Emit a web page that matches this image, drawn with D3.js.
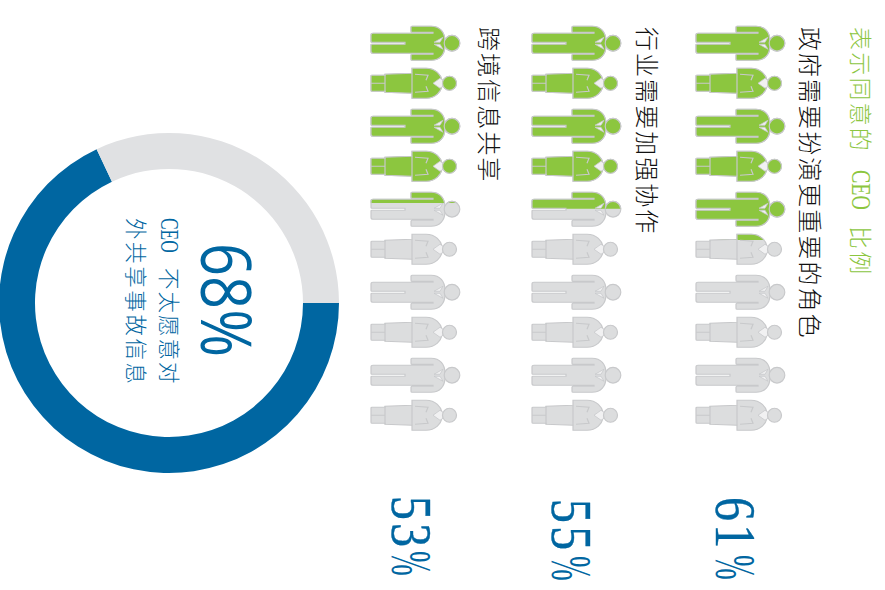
<!DOCTYPE html>
<html><head><meta charset="utf-8">
<script src="https://cdn.jsdelivr.net/npm/d3@7/dist/d3.min.js"></script>
<style>html,body{margin:0;padding:0;background:#fff}svg{display:block}</style>
</head><body><div id="c"></div>
<script>
const rowLabels = ["政府需要扮演更重要的角色","行业需要加强协作","跨境信息共享"];
const rowValues = [61,55,53];
const filledIcons = [5.24,4.49,4.35];
const iconKinds = ["man","woman","man","woman","man","woman","man","woman","man","woman"];
const legendParts = ["表示同意的","CEO","比例"];
const donutValues = [68,32];
const donutBig = "68%";
const donutLine1 = ["CEO","不太愿意对"];
const donutLine2 = "外共享事故信息";

const W=885,H=590;
const BLUE="#0066a1",GREEN="#8cc63f",GREY="#dcddde",EDGE="#c8c9cb",RING="#e0e1e3";
const SANS="'Noto Sans CJK SC','Noto Sans',sans-serif";
const SERIF="'Liberation Serif','Times New Roman',serif";
const svg=d3.select("#c").append("svg").attr("width",W).attr("height",H);
const defs=svg.append("defs");
// whole chart is turned a quarter clockwise: local x = page y, local y = W - page x
const g=svg.append("g").attr("transform",`translate(${W},0) rotate(90)`);
const py=x=>W-x;

const manBody="M-10,2Q-10,0-8,0L-2,0Q-1,0-1,1L-1,34L1,34L1,1Q1,0 2,0L8,0Q10,0 10,2L10,62L11,62L11,41Q11,40 12,40L16,40Q17,40 17,41L17,60C17,69 11,74 2,74L-2,74C-11,74-17,69-17,60L-17,41Q-17,40-16,40L-12,40Q-11,40-11,41L-11,62L-10,62Z";
const manCollar="M-1,63L-6,72L-1,69ZM1,63L6,72L1,69Z";
const womanBody="M-8,1Q-8,0-7,0L7,0Q8,0 8,1L8,14L9,14L10,41L15,41L15,55C15,65 8,70 3,71L-3,71C-8,70-15,65-15,55L-15,41L-10,41L-9,14L-8,14Z";
const womanLines="M0,0L0,14M-9,14L9,14M-10,41L10,41M-9,44L-8,57L-3,55M9,44L8,57L3,55";
const womanCollar="M0,62L-5,69L-3,72L3,72L5,69Z";
const shapes={man:{body:manBody,extra:manCollar,head:[81,7.8],lines:null},
              woman:{body:womanBody,extra:womanCollar,head:[78.5,7],lines:womanLines}};

const iconX=d3.scaleLinear().domain([0,10]).range([22.5,437.5]);
const rowX=d3.scaleOrdinal().domain(rowLabels).range([696,532,371]);
const labelX=d3.scaleOrdinal().domain(rowLabels).range([801,638,480]);
const valueX=d3.scaleOrdinal().domain(rowLabels).range([716,552,392]);
const valueStart=d3.scaleOrdinal().domain(rowLabels).range([497,499,496]);
const pctStart=d3.scaleOrdinal().domain(rowLabels).range([555,556,551]);

function drawIcons(sel,fill){
  sel.selectAll("g").data(iconKinds).join("g")
    .attr("transform",(k,i)=>`translate(${iconX(i+.5)-(k==="woman"?1.5:0)},0) scale(1,-1)`)
    .each(function(k){
      const s=shapes[k],n=d3.select(this);
      n.append("path").attr("d",s.body).attr("fill",fill).attr("stroke",EDGE).attr("stroke-width",1.2);
      if(s.lines)n.append("path").attr("d",s.lines).attr("fill","none").attr("stroke",EDGE).attr("stroke-width",1.2);
      n.append("path").attr("d",s.extra).attr("fill","#f1f1f2").attr("stroke",EDGE).attr("stroke-width",.8);
      n.append("circle").attr("cx",0).attr("cy",s.head[0]).attr("r",s.head[1]).attr("fill",fill).attr("stroke",EDGE).attr("stroke-width",1.2);
    });
}
function squeezed(txt,x,baseX,size,sx,fill,fam,spacing,weight){
  return g.append("text").text(txt)
    .attr("transform",`translate(${x},${py(baseX)}) scale(${sx},1)`)
    .attr("font-family",fam).attr("font-size",size).attr("fill",fill)
    .attr("letter-spacing",spacing||0).attr("font-weight",weight||400);
}
rowLabels.forEach((label,r)=>{
  const y=py(rowX(label));
  const row=g.append("g").attr("transform",`translate(0,${y})`);
  defs.append("clipPath").attr("id","clip"+r).append("rect")
    .attr("x",0).attr("y",-100).attr("width",iconX(filledIcons[r])).attr("height",110);
  drawIcons(row.append("g"),GREY);
  drawIcons(row.append("g").attr("clip-path",`url(#clip${r})`),GREEN);
  g.append("text").text(label).attr("x",27).attr("y",py(labelX(label)))
    .attr("font-family",SANS).attr("font-weight",300).attr("font-size",24).attr("letter-spacing",2.05).attr("fill","#111");
  squeezed(String(rowValues[r]),valueStart(label),valueX(label),57,0.84,BLUE,SERIF,4).attr("stroke",BLUE).attr("stroke-width",.4);
  squeezed("%",pctStart(label),valueX(label),57,0.52,BLUE,SERIF);
});
const legendBase=852;
g.append("text").text(legendParts[0]).attr("x",27).attr("y",py(legendBase))
  .attr("font-family",SANS).attr("font-weight",300).attr("font-size",23).attr("letter-spacing",2.2).attr("fill",GREEN);
squeezed(legendParts[1],170,legendBase,27,0.74,GREEN,SERIF);
g.append("text").text(legendParts[2]).attr("x",226).attr("y",py(legendBase))
  .attr("font-family",SANS).attr("font-weight",300).attr("font-size",23).attr("letter-spacing",2.2).attr("fill",GREEN);

const cx=303,cy=py(169);
const pie=d3.pie().sort(null)(donutValues);
const arc=d3.arc().innerRadius(134).outerRadius(170);
g.append("g").attr("transform",`translate(${cx},${cy})`).selectAll("path").data(pie).join("path")
  .attr("d",arc).attr("fill",(d,i)=>[BLUE,RING][i]);
g.append("text").text(donutBig).attr("x",243).attr("y",py(201))
  .attr("font-family","'Open Sans',sans-serif").attr("font-weight",400).attr("font-size",70).attr("fill",BLUE)
  .attr("textLength",114).attr("lengthAdjust","spacingAndGlyphs");
squeezed(donutLine1[0],218,161,26,0.67,BLUE,SERIF);
g.append("text").text(donutLine1[1]).attr("x",268).attr("y",py(161))
  .attr("font-family",SANS).attr("font-weight",300).attr("font-size",21.5).attr("letter-spacing",2).attr("fill",BLUE);
g.append("text").text(donutLine2).attr("x",218).attr("y",py(128))
  .attr("font-family",SANS).attr("font-weight",300).attr("font-size",21.5).attr("letter-spacing",2.6).attr("fill",BLUE);
</script></body></html>
